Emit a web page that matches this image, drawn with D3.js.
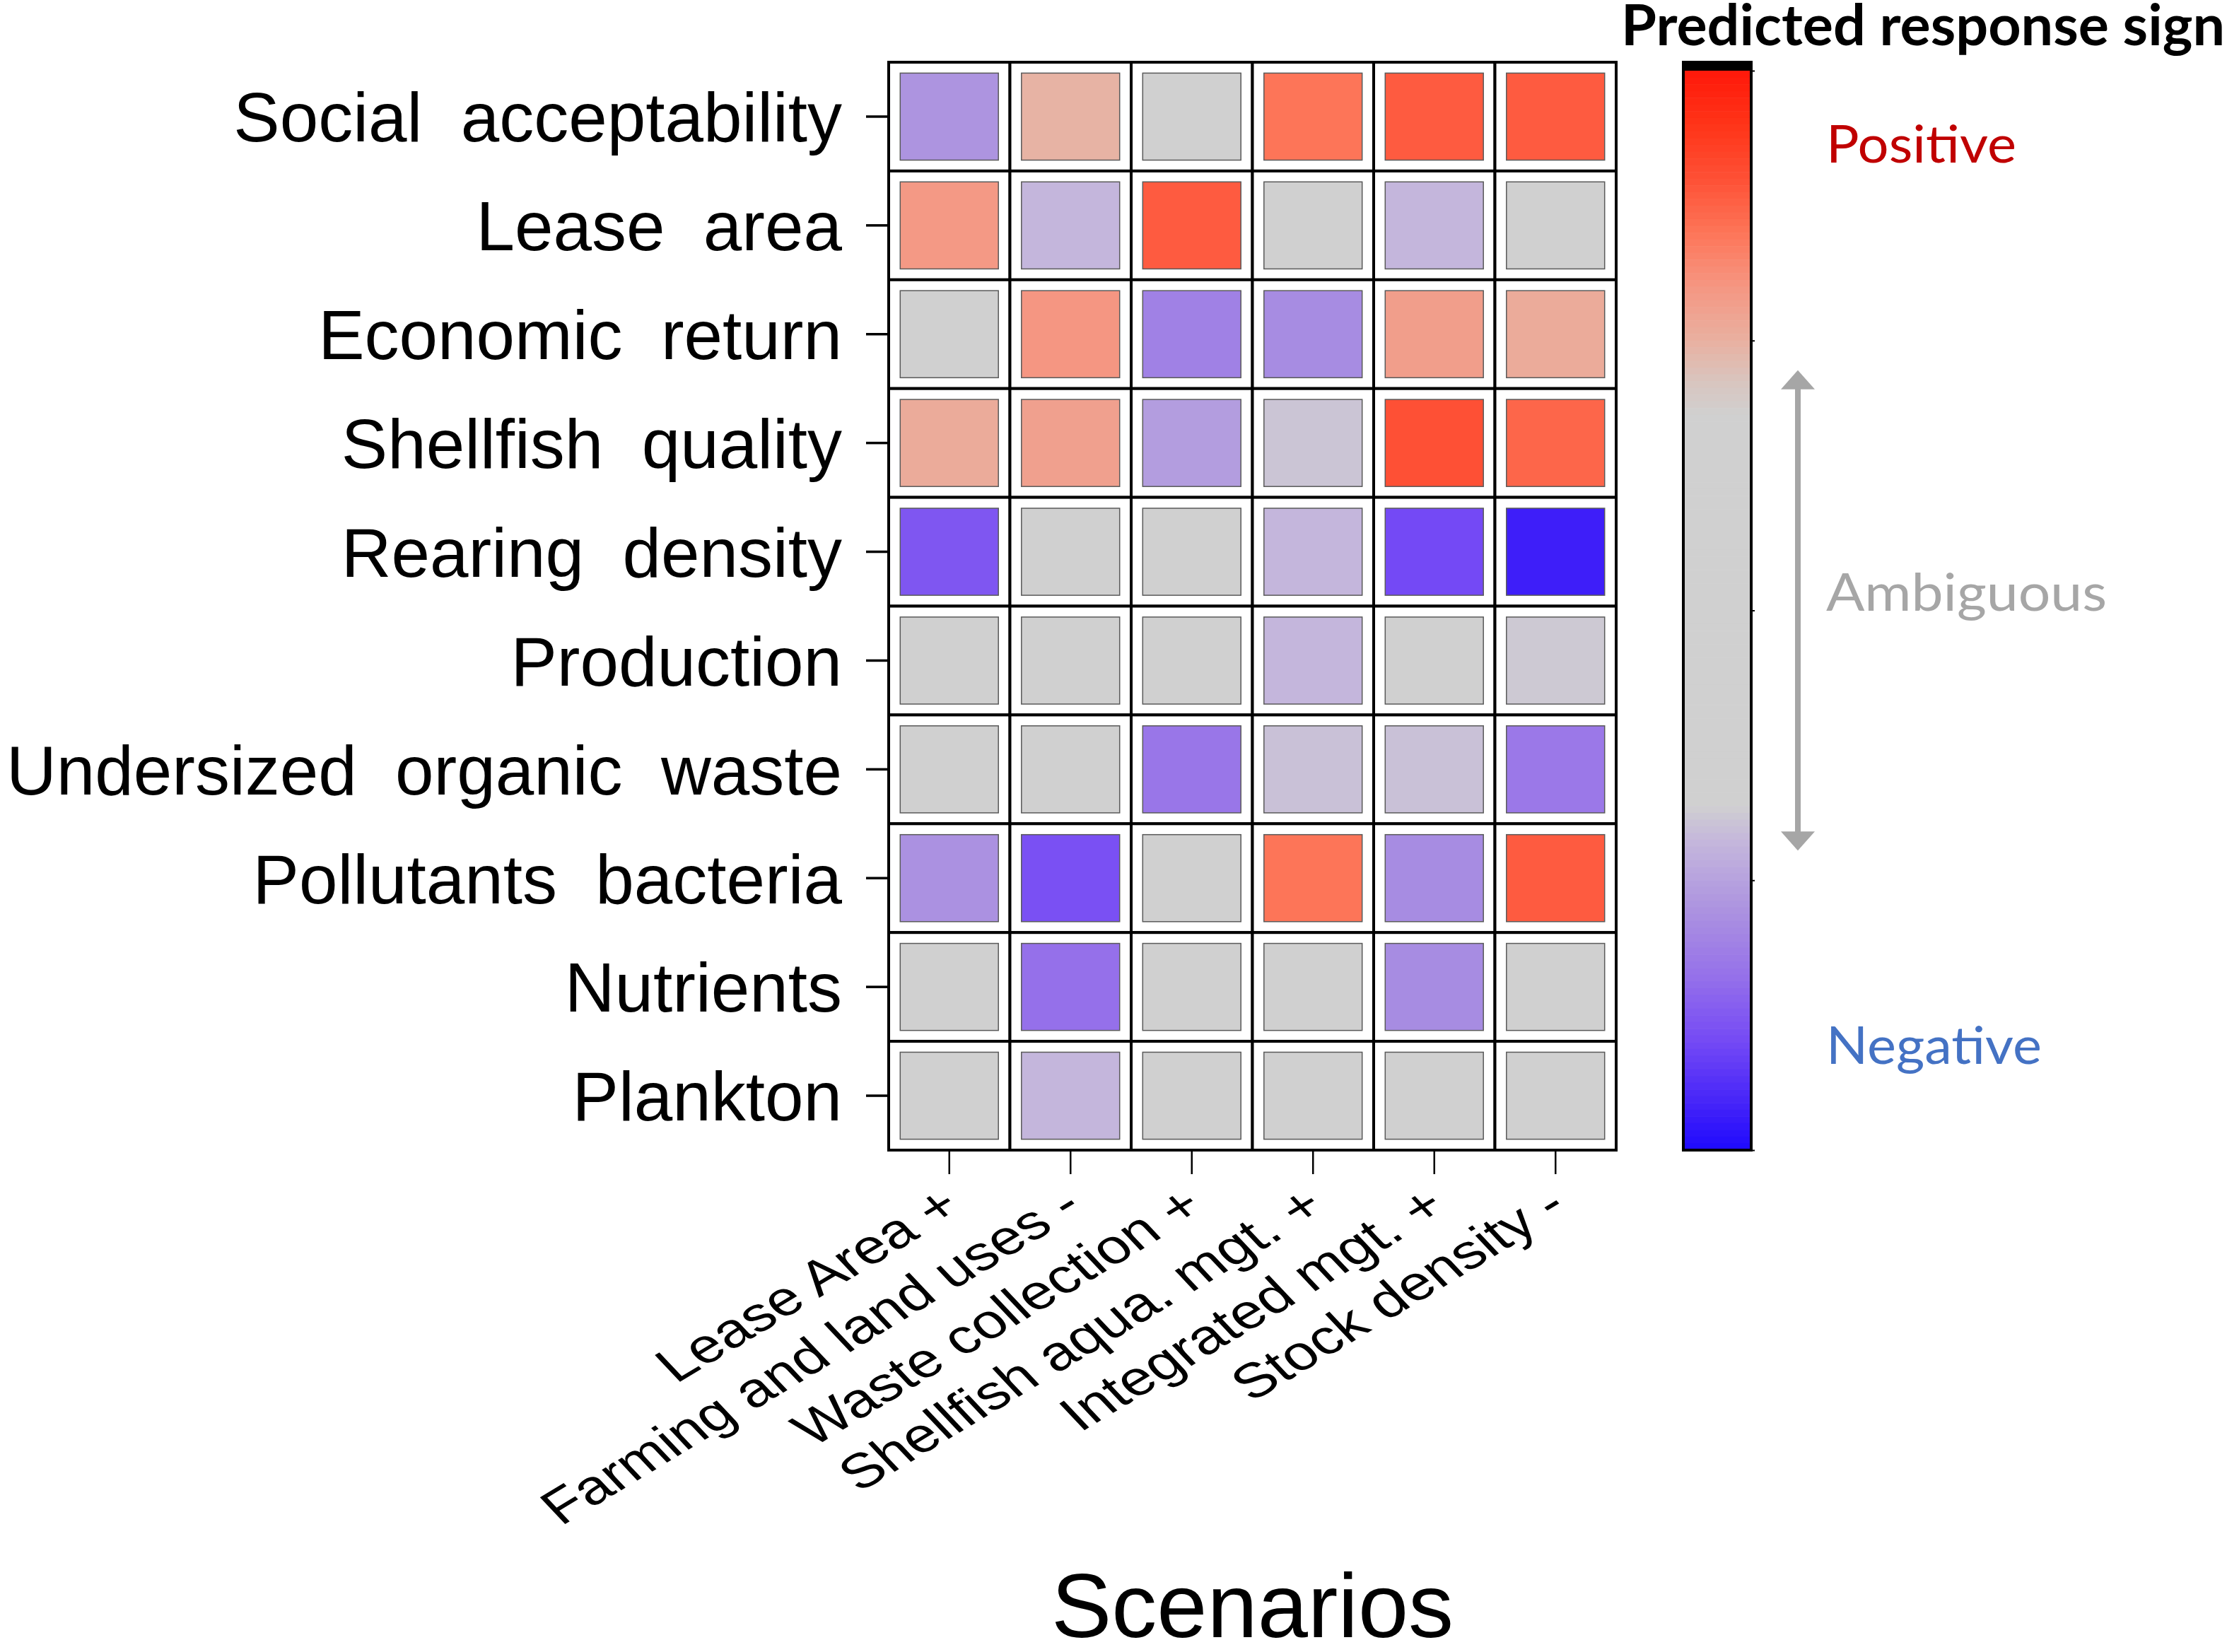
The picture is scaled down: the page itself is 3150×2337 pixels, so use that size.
<!DOCTYPE html>
<html>
<head>
<meta charset="utf-8">
<script src="https://cdn.jsdelivr.net/npm/d3@7/dist/d3.min.js"></script>
<style>
    body { margin: 0; background: #fff; }
    svg text { white-space: pre; }
</style>
</head>
<body>
<div id="chart"></div>
<script>

// rows of the matrix (top to bottom)
const responses = ["Social  acceptability", "Lease  area", "Economic  return", "Shellfish  quality",
    "Rearing  density", "Production", "Undersized  organic  waste", "Pollutants  bacteria",
    "Nutrients", "Plankton"];

// columns of the matrix
const scenarios = ["Lease Area +", "Farming and land uses -", "Waste collection +",
    "Shellfish aqua. mgt. +", "Integrated mgt. +", "Stock density -"];

// predicted response sign per scenario, one value per response (-1 negative .. +1 positive)
const leaseAreaUp      = [-0.55,  0.59,  0,     0.52, -0.76,  0,     0,    -0.56,  0,     0];
const farmingLandDown  = [ 0.49, -0.43,  0.60,  0.56,  0,     0,     0,    -0.78, -0.68, -0.43];
const wasteCollUp      = [ 0,     0.77, -0.62, -0.52,  0,     0,    -0.66,  0,     0,     0];
const shellfishMgtUp   = [ 0.70,  0,    -0.58, -0.39, -0.43, -0.43, -0.40,  0.70,  0,     0];
const integratedMgtUp  = [ 0.77, -0.43,  0.57,  0.80, -0.80,  0,    -0.40, -0.58, -0.58,  0];
const stockDensityDown = [ 0.77,  0,     0.52,  0.74, -0.93, -0.38, -0.65,  0.77,  0,     0];

const scenarioValues = [leaseAreaUp, farmingLandDown, wasteCollUp, shellfishMgtUp, integratedMgtUp, stockDensityDown];

// colour ramp of the response sign
const signStops  = [-1, -0.93, -0.8, -0.68, -0.55, -0.43, -0.36, 0.36, 0.42, 0.5, 0.6, 0.7, 0.8, 0.9, 1];
const signColors = ["#1e0aff", "#3e1ef9", "#7449f5", "#9570ea", "#ad94e0", "#c4b6dc", "#d0d0d0",
    "#d0d0d0", "#d8c6c0", "#e9b0a0", "#f59682", "#fd7558", "#fe5035", "#ff3418", "#ff180a"];

// legend
const legendLabels = [
    {text: "Positive",  value: 0.83,  color: "#c00000", len: 269},
    {text: "Ambiguous", value: 0.0,   color: "#a6a6a6", len: 397},
    {text: "Negative",  value: -0.84, color: "#4472c4", len: 305}
];
const legendTicks = [1, 0.5, 0, -0.5, -1];


const W = 3150, H = 2337;

const svg = d3.select("#chart").append("svg")
    .attr("width", W)
    .attr("height", H)
    .attr("viewBox", `0 0 ${W} ${H}`);

// matrix area
const grid = {left: 1257, right: 2286, top: 88, bottom: 1627};

const x = d3.scaleBand()
    .domain(scenarios)
    .range([grid.left, grid.right]);

const y = d3.scaleBand()
    .domain(responses)
    .range([grid.top, grid.bottom]);

// inner squares sit inside each cell with an even white gap
const xIn = d3.scaleBand().domain(scenarios).range([grid.left, grid.right])
    .paddingInner(0.19).paddingOuter(0.095);
const yIn = d3.scaleBand().domain(responses).range([grid.top, grid.bottom])
    .paddingInner(0.2).paddingOuter(0.1);

const color = d3.scaleLinear()
    .domain(signStops)
    .range(signColors)
    .clamp(true);

const cells = [];
scenarios.forEach((s, j) => {
    responses.forEach((r, i) => {
        cells.push({scenario: s, response: r, value: scenarioValues[j][i]});
    });
});

// cell frames
svg.append("g")
    .selectAll("rect")
    .data(cells)
    .join("rect")
    .attr("x", d => x(d.scenario))
    .attr("y", d => y(d.response))
    .attr("width", x.bandwidth())
    .attr("height", y.bandwidth())
    .attr("fill", "#fff")
    .attr("stroke", "#000")
    .attr("stroke-width", 4);

// coloured squares
svg.append("g")
    .selectAll("rect")
    .data(cells)
    .join("rect")
    .attr("x", d => xIn(d.scenario))
    .attr("y", d => yIn(d.response))
    .attr("width", xIn.bandwidth())
    .attr("height", yIn.bandwidth())
    .attr("fill", d => color(d.value))
    .attr("stroke", "#5a5a5a")
    .attr("stroke-width", 1.5);

// y axis
const yAxis = svg.append("g")
    .attr("transform", `translate(${grid.left},0)`)
    .call(d3.axisLeft(y).tickSize(32).tickPadding(34));
yAxis.select(".domain").remove();
yAxis.selectAll(".tick line").attr("stroke", "#000").attr("stroke-width", 3.5);
yAxis.selectAll(".tick text")
    .attr("dy", "0.36em")
    .attr("fill", "#000")
    .style("font-family", "'Liberation Sans', Arial, sans-serif")
    .style("font-size", "98px");

// x axis
const xAxis = svg.append("g")
    .attr("transform", `translate(0,${grid.bottom})`)
    .call(d3.axisBottom(x).tickSize(34).tickFormat(""));
xAxis.select(".domain").remove();
xAxis.selectAll(".tick line").attr("stroke", "#000").attr("stroke-width", 2.5);

// slanted scenario labels (figure was squeezed vertically, so the text is too)
svg.append("g")
    .selectAll("text")
    .data(scenarios)
    .join("text")
    .attr("transform", d => `translate(${x(d) + x.bandwidth() / 2 + 20},${grid.bottom + 86}) scale(1,0.8) rotate(-37)`)
    .attr("text-anchor", "end")
    .style("font-family", "'Liberation Sans', Arial, sans-serif")
    .style("font-size", "86px")
    .attr("fill", "#000")
    .text(d => d);

svg.append("text")
    .attr("x", (grid.left + grid.right) / 2)
    .attr("y", 2316)
    .attr("text-anchor", "middle")
    .style("font-family", "'Liberation Sans', Arial, sans-serif")
    .style("font-size", "128px")
    .attr("fill", "#000")
    .text("Scenarios");

// ---- colour bar legend ----
const bar = {left: 2381, width: 96, top: 88, cap: 12, bottom: 1627};

const legendY = d3.scaleLinear()
    .domain([1, -1])
    .range([bar.top + bar.cap, bar.bottom]);

const nStrips = 160;
const strips = d3.range(nStrips).map(k => 1 - 2 * (k + 0.5) / nStrips);
const stripH = (legendY.range()[1] - legendY.range()[0]) / nStrips;

svg.append("g")
    .selectAll("rect")
    .data(strips)
    .join("rect")
    .attr("x", bar.left)
    .attr("y", d => legendY(d) - stripH / 2)
    .attr("width", bar.width)
    .attr("height", stripH + 0.6)
    .attr("fill", d => color(d));

svg.append("rect")
    .attr("x", bar.left)
    .attr("y", bar.top)
    .attr("width", bar.width)
    .attr("height", bar.cap)
    .attr("fill", "#000");

svg.append("rect")
    .attr("x", bar.left)
    .attr("y", bar.top)
    .attr("width", bar.width)
    .attr("height", bar.bottom - bar.top)
    .attr("fill", "none")
    .attr("stroke", "#000")
    .attr("stroke-width", 4);

const legendAxis = svg.append("g")
    .attr("transform", `translate(${bar.left + bar.width},0)`)
    .call(d3.axisRight(legendY).tickValues(legendTicks).tickSize(5).tickFormat(""));
legendAxis.select(".domain").remove();
legendAxis.selectAll(".tick line").attr("stroke", "#000").attr("stroke-width", 2);

// ambiguous range arrow
const arrowX = bar.left + bar.width + 66;
const arrowTop = legendY(0.445), arrowBot = legendY(-0.445);
const headW = 24, headH = 27;

svg.append("line")
    .attr("x1", arrowX).attr("x2", arrowX)
    .attr("y1", arrowTop + headH - 2).attr("y2", arrowBot - headH + 2)
    .attr("stroke", "#a6a6a6")
    .attr("stroke-width", 8);

svg.append("path")
    .attr("d", `M${arrowX},${arrowTop} L${arrowX + headW},${arrowTop + headH} L${arrowX - headW},${arrowTop + headH} Z`)
    .attr("fill", "#a6a6a6");

svg.append("path")
    .attr("d", `M${arrowX},${arrowBot} L${arrowX + headW},${arrowBot - headH} L${arrowX - headW},${arrowBot - headH} Z`)
    .attr("fill", "#a6a6a6");

svg.append("g")
    .selectAll("text")
    .data(legendLabels)
    .join("text")
    .attr("x", 2583)
    .attr("y", d => legendY(d.value))
    .attr("textLength", d => d.len)
    .attr("lengthAdjust", "spacingAndGlyphs")
    .attr("fill", d => d.color)
    .style("font-family", "Lato, 'Open Sans', sans-serif")
    .style("font-size", "74px")
    .text(d => d.text);

svg.append("text")
    .attr("x", 2293)
    .attr("y", 64)
    .attr("textLength", 854)
    .attr("lengthAdjust", "spacingAndGlyphs")
    .attr("fill", "#000")
    .style("font-family", "Lato, 'Open Sans', sans-serif")
    .style("font-weight", "bold")
    .style("font-size", "80px")
    .text("Predicted response sign");

</script>
</body>
</html>
